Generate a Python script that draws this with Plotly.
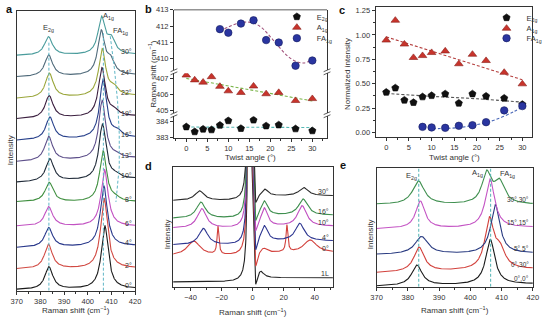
import numpy as np
import plotly.graph_objects as go

W, H = 548, 322
FONT = "Liberation Sans, Arial, sans-serif"
INK = "#333333"


def px(xp):
    return xp / W


def py(yp):
    return 1 - yp / H


def lorentz(x, x0, h, fwhm):
    return h / (1 + ((x - x0) / (fwhm / 2.0)) ** 2)


# ---------------- panel a: Raman spectra vs twist angle ----------------
a_labels = ["0°", "2°", "4°", "6°", "8°", "10°", "13°", "16°", "19°", "22°", "24°", "30°"]
a_colors = ["#1a1a1a", "#d14a43", "#2b3a8c", "#c252c2", "#3f8f3f", "#1f2a38",
            "#5d4f8a", "#27408b", "#3b1f3f", "#9aa63a", "#4f6a7a", "#4a9c9c"]
a_base_left = [1, 22, 44, 66, 91, 111, 132, 154, 176, 197, 219, 241]
a_base_right = [2, 23, 46, 66, 91, 115, 136, 157, 179, 200, 221, 242]
a_e2g_pos = [383.6, 383.4, 383.5, 383.5, 383.7, 384.0, 383.5, 384.0, 383.7, 383.8, 383.5, 383.4]
a_e2g_h = [23, 25, 20, 20, 20, 23, 25, 23, 23, 25, 22, 19]
a_a1g_pos = [407.2, 406.9, 406.8, 407.1, 406.5, 406.2, 406.1, 406.5, 406.0, 406.1, 405.7, 405.8]
a_a1g_h = [65, 72, 62, 58, 52, 57, 60, 60, 50, 48, 44, 37]
a_fa_pos = [410.0, 410.0, 410.0, 410.0, 411.8, 411.6, 412.2, 412.4, 411.2, 411.0, 409.6, 409.9]
a_fa_h = [0, 0, 0, 0, 3, 3, 3, 6, 5, 8, 14, 15]
a_e2g_guide = ([383.6, 383.6], [0, 256])
a_a1g_guide = ([406.6, 406.6], [0, 264])
a_fa_guide = ([409.5, 411.3, 412.6, 413.3, 413.3, 412.6, 411.9],
              [261, 227, 194, 161, 127, 107, 91])

# ---------------- panel b / c: peak position and intensity ----------------
twist = [0, 2, 4, 6, 8, 10, 13, 16, 19, 22, 26, 30]
twist_fa = [8, 10, 13, 16, 19, 22, 26, 30]
b_e2g = [383.64, 383.34, 383.50, 383.46, 383.74, 384.02, 383.54, 384.06, 383.70, 383.76, 383.52, 383.40]
b_a1g = [407.20, 406.90, 406.76, 407.10, 406.50, 406.22, 406.12, 406.52, 406.04, 406.12, 405.62, 405.74]
b_fa = [411.82, 411.60, 412.16, 412.36, 411.15, 411.00, 409.58, 409.90]
b_fit_e2g = ([0, 30], [383.63, 383.60])
b_fit_a1g = ([0, 30], [407.00, 405.60])
b_fit_fa = ([8, 10, 12, 14, 16, 18, 20, 22, 24, 26, 28, 30],
            [411.70, 411.95, 412.15, 412.25, 412.20, 411.90, 411.35, 410.75, 410.20, 409.85, 409.75, 409.95])

c_e2g = [0.412, 0.456, 0.331, 0.307, 0.365, 0.378, 0.395, 0.300, 0.395, 0.372, 0.351, 0.287]
c_a1g = [0.946, 1.149, 0.905, 0.767, 0.787, 0.818, 0.834, 0.703, 0.800, 0.736, 0.615, 0.497]
c_fa = [0.057, 0.051, 0.047, 0.068, 0.074, 0.105, 0.226, 0.270]
c_fit_e2g = ([0, 10, 20, 30], [0.40, 0.37, 0.345, 0.31])
c_fit_a1g = ([0, 30], [0.98, 0.54])
c_fit_fa = ([8, 12, 16, 20, 24, 28, 30], [0.04, 0.04, 0.05, 0.08, 0.13, 0.21, 0.26])

# ---------------- panel d: low-frequency spectra ----------------
d_labels = ["1L", "0°", "4°", "10°", "16°", "30°"]
d_colors = ["#222222", "#d2413c", "#2c3590", "#c04ec0", "#3f8f4f", "#2a2a2a"]
d_base_left = [5, 31.7, 42.7, 60, 70, 88.3]
d_base_right = [9.3, 35, 47, 62, 73.3, 93.3]
d_broad_left_pos = [-35, -37.9, -31.7, -32.7, -33.3, -34.2]
d_broad_left_h = [0, 15, 17, 20, 16.7, 10]
d_broad_right_pos = [35, 37.1, 30.4, 31.9, 32.5, 32.9]
d_broad_right_h = [0, 13, 18, 21, 16.7, 8.4]
d_broad_w = [7, 10, 7, 7, 7, 7]
d_sharp_pos = [-22.3, 22.1]
d_sharp_h = [0, 29, 0, 0, 0, 0]
d_bump_pos = [5.0, 7.0, 7.5, 7.5, 7.5, 7.9]
d_bump_h = [8, 5, 16, 19, 15, 7]
d_dip_h = [10, 15, 12, 8, 8, 8]

# ---------------- panel e: stacked bilayer spectra ----------------
e_labels = ["0°,0°", "0°,30°", "5°,5°", "15°,15°", "30°,30°"]
e_colors = ["#1a1a1a", "#d2413c", "#283a80", "#c454c4", "#3f8f4f"]
e_base_left = [0.5, 14.3, 33, 59.3, 84.3]
e_base_right = [3, 18, 34.3, 61, 84.3]
e_e2g_pos = [382.9, 383.6, 384.4, 384.0, 383.4]
e_e2g_h = [21, 25, 18, 28, 24]
e_e2g_w = [4, 4, 5, 3.5, 4.5]
e_a1g_pos = [406.4, 406.1, 408.0, 406.3, 405.2]
e_a1g_h = [46, 50, 50, 50, 31]
e_fa_pos = [410, 409.5, 410, 410, 409.3]
e_fa_h = [0, 18, 0, 0, 22]
e_guides = [383.5, 406.5]

fig = go.Figure()
dash = "3px,2px"

# panel a traces
xa = np.linspace(370, 420, 800)
for i, lab in enumerate(a_labels):
    base = a_base_left[i] + (a_base_right[i] - a_base_left[i]) * (xa - 370) / 50
    ya = (base + lorentz(xa, a_e2g_pos[i], a_e2g_h[i], 4.0)
          + lorentz(xa, a_a1g_pos[i], a_a1g_h[i], 3.5)
          + lorentz(xa, a_fa_pos[i], a_fa_h[i], 4.0))
    fig.add_trace(go.Scatter(x=xa, y=ya, mode="lines", line=dict(color=a_colors[i], width=1.1),
                             xaxis="x", yaxis="y", showlegend=False, hoverinfo="skip"))
for gx, gy in (a_e2g_guide, a_a1g_guide, a_fa_guide):
    fig.add_trace(go.Scatter(x=gx, y=gy, mode="lines", line=dict(color="#5fb6c6", width=1, dash=dash),
                             xaxis="x", yaxis="y", showlegend=False, hoverinfo="skip"))

# panel b traces
mk_black = dict(symbol="pentagon", size=7.5, color="#111111", line=dict(color="#000", width=0.6))
mk_red = dict(symbol="triangle-up", size=7.5, color="#c8342c", line=dict(color="#8a1f1a", width=0.6))
mk_blue = dict(symbol="circle", size=7.5, color="#2a35a0", line=dict(color="#151d60", width=0.6))

fig.add_trace(go.Scatter(x=b_fit_e2g[0], y=b_fit_e2g[1], mode="lines", line=dict(color="#56b8b4", width=1.1, dash=dash),
                         xaxis="x2", yaxis="y4", showlegend=False, hoverinfo="skip"))
fig.add_trace(go.Scatter(x=b_fit_a1g[0], y=b_fit_a1g[1], mode="lines", line=dict(color="#7bb54a", width=1.1, dash=dash),
                         xaxis="x2", yaxis="y3", showlegend=False, hoverinfo="skip"))
fig.add_trace(go.Scatter(x=b_fit_fa[0], y=b_fit_fa[1], mode="lines", line=dict(color="#a0507a", width=1.1, dash=dash, shape="spline"),
                         xaxis="x2", yaxis="y2", showlegend=False, hoverinfo="skip"))
fig.add_trace(go.Scatter(x=twist, y=b_e2g, mode="markers", marker=mk_black, name="E<sub>2g</sub>",
                         xaxis="x2", yaxis="y4", legend="legend"))
fig.add_trace(go.Scatter(x=twist, y=b_a1g, mode="markers", marker=mk_red, name="A<sub>1g</sub>",
                         xaxis="x2", yaxis="y3", legend="legend2"))
fig.add_trace(go.Scatter(x=twist_fa, y=b_fa, mode="markers", marker=mk_blue, name="FA<sub>1g</sub>",
                         xaxis="x2", yaxis="y2", legend="legend3"))

# panel c traces
fig.add_trace(go.Scatter(x=c_fit_e2g[0], y=c_fit_e2g[1], mode="lines", line=dict(color="#555555", width=1.1, dash=dash, shape="spline"),
                         xaxis="x3", yaxis="y5", showlegend=False, hoverinfo="skip"))
fig.add_trace(go.Scatter(x=c_fit_a1g[0], y=c_fit_a1g[1], mode="lines", line=dict(color="#b5403f", width=1.1, dash=dash),
                         xaxis="x3", yaxis="y5", showlegend=False, hoverinfo="skip"))
fig.add_trace(go.Scatter(x=c_fit_fa[0], y=c_fit_fa[1], mode="lines", line=dict(color="#4a68b8", width=1.1, dash=dash, shape="spline"),
                         xaxis="x3", yaxis="y5", showlegend=False, hoverinfo="skip"))
fig.add_trace(go.Scatter(x=twist, y=c_e2g, mode="markers", marker=mk_black, name="E<sub>2g</sub>",
                         xaxis="x3", yaxis="y5", legend="legend4"))
fig.add_trace(go.Scatter(x=twist, y=c_a1g, mode="markers", marker=mk_red, name="A<sub>1g</sub>",
                         xaxis="x3", yaxis="y5", legend="legend5"))
fig.add_trace(go.Scatter(x=twist_fa, y=c_fa, mode="markers", marker=mk_blue, name="FA<sub>1g</sub>",
                         xaxis="x3", yaxis="y5", legend="legend6"))

# panel d traces
xl = np.linspace(-51.5, -1.2, 700)
xr = np.linspace(2.0, 52.5, 700)
for i, lab in enumerate(d_labels):
    yl = (d_base_left[i] + lorentz(xl, d_broad_left_pos[i], d_broad_left_h[i], d_broad_w[i])
          + lorentz(xl, d_sharp_pos[0], d_sharp_h[i], 1.4) + lorentz(xl, -2.2, 600, 1.2))
    yr = (d_base_right[i] + lorentz(xr, d_broad_right_pos[i], d_broad_right_h[i], d_broad_w[i])
          + lorentz(xr, d_sharp_pos[1], d_sharp_h[i] * 0.95, 1.4)
          + lorentz(xr, d_bump_pos[i], d_bump_h[i], 5.0) - lorentz(xr, 2.0, d_dip_h[i], 2.5))
    fig.add_trace(go.Scatter(x=np.concatenate([xl, xr]), y=np.concatenate([yl, yr]), mode="lines",
                             line=dict(color=d_colors[i], width=1.1),
                             xaxis="x4", yaxis="y6", showlegend=False, hoverinfo="skip"))

# panel e traces
xe = np.linspace(370, 420, 800)
for i, lab in enumerate(e_labels):
    base = e_base_left[i] + (e_base_right[i] - e_base_left[i]) * (xe - 370) / 50
    ye = (base + lorentz(xe, e_e2g_pos[i], e_e2g_h[i], e_e2g_w[i])
          + lorentz(xe, e_a1g_pos[i], e_a1g_h[i], 3.5)
          + lorentz(xe, e_fa_pos[i], e_fa_h[i], 4.0))
    fig.add_trace(go.Scatter(x=xe, y=ye, mode="lines", line=dict(color=e_colors[i], width=1.1),
                             xaxis="x5", yaxis="y7", showlegend=False, hoverinfo="skip"))
for gx in e_guides:
    fig.add_trace(go.Scatter(x=[gx, gx], y=[0, 123], mode="lines", line=dict(color="#4fb3b3", width=1, dash=dash),
                             xaxis="x5", yaxis="y7", showlegend=False, hoverinfo="skip"))

# ---------------- axes ----------------
base_ax = dict(showline=True, linecolor=INK, linewidth=0.8, mirror=True, ticks="outside", ticklen=3,
               tickwidth=0.8, tickcolor=INK, showgrid=False, zeroline=False,
               tickfont=dict(size=7.5, color=INK, family=FONT))
noy = dict(showticklabels=False, ticks="")

layout = dict(
    width=W, height=H, margin=dict(l=0, r=0, t=0, b=0),
    paper_bgcolor="white", plot_bgcolor="white",
    font=dict(family=FONT, size=8, color=INK),
    xaxis=dict(base_ax, domain=[px(11), px(133)], range=[370, 420], anchor="y", dtick=10,
               minor=dict(ticks="outside", ticklen=2, dtick=5, tickcolor=INK)),
    yaxis=dict(base_ax, **noy, domain=[py(294), py(6.7)], range=[0, 287.3], anchor="x"),
    xaxis2=dict(base_ax, domain=[px(173), px(330.7)], range=[-2.94, 33.5], anchor="y4", dtick=5, mirror=False,
                minor=dict(ticks="outside", ticklen=2, dtick=2.5, tickcolor=INK)),
    yaxis2=dict(base_ax, domain=[py(68), py(6)], range=[409.3, 413.0], anchor="x2", dtick=1),
    yaxis3=dict(base_ax, domain=[py(112), py(71)], range=[404.84, 407.32], anchor="x2", dtick=1),
    yaxis4=dict(base_ax, domain=[py(137.5), py(115)], range=[382.95, 384.3], anchor="x2", dtick=1),
    xaxis3=dict(base_ax, domain=[px(380.7), px(541.7)], range=[-2.35, 32.1], anchor="y5", dtick=5,
                minor=dict(ticks="outside", ticklen=2, dtick=2.5, tickcolor=INK)),
    yaxis5=dict(base_ax, domain=[py(136.7), py(3)], range=[-0.05, 1.287], anchor="x3", dtick=0.25,
                tickformat=".2f", minor=dict(ticks="outside", ticklen=2, dtick=0.125, tickcolor=INK)),
    xaxis4=dict(base_ax, domain=[px(172.3), px(336.7)], range=[-51.1, 51.7], anchor="y6", dtick=20,
                minor=dict(ticks="outside", ticklen=2, dtick=10, tickcolor=INK)),
    yaxis6=dict(base_ax, **noy, domain=[py(290), py(167)], range=[0, 123], anchor="x4"),
    xaxis5=dict(base_ax, domain=[px(381.7), px(542.7)], range=[370, 420], anchor="y7", dtick=10,
                minor=dict(ticks="outside", ticklen=2, dtick=5, tickcolor=INK)),
    yaxis7=dict(base_ax, **noy, domain=[py(290), py(168)], range=[0, 122], anchor="x5"),
)

# one single-entry legend per series so the keys stay compact
leg = dict(bgcolor="rgba(0,0,0,0)", borderwidth=0, font=dict(size=7.5, family=FONT, color=INK),
           xanchor="left", yanchor="middle", itemwidth=30)
for name, xpos, ypos in [("legend", 279, 13), ("legend2", 279, 24), ("legend3", 279, 35),
                         ("legend4", 495, 14), ("legend5", 495, 25), ("legend6", 495, 35)]:
    layout[name] = dict(leg, x=px(xpos), y=py(ypos))

fig.update_layout(**layout)

# ---------------- text ----------------
ann = []


def text(x, y, s, size=8, xref="paper", yref="paper", angle=0, xanchor="center", bold=False, color=INK):
    ann.append(dict(x=x, y=y, xref=xref, yref=yref, text=f"<b>{s}</b>" if bold else s, showarrow=False,
                    textangle=angle, xanchor=xanchor, yanchor="middle",
                    font=dict(size=size, family=FONT, color=color)))


# panel letters
for s, xp, yp in [("a", 4, 5), ("b", 147, 5), ("c", 346, 6), ("d", 147, 166), ("e", 347, 165)]:
    text(px(xp), py(yp), s, size=11, bold=True, color="#111")

# axis titles
raman = "Raman shift (cm<sup>−1</sup>)"
text(px(4), py(150), "Intensity", angle=-90)
text(px(72), py(314), raman)
text(px(151), py(72), raman, angle=-90)
text(px(252), py(157), "Twist angle (°)")
text(px(351), py(72), "Normalized intensity", angle=-90)
text(px(462), py(157), "Twist angle (°)")
text(px(166), py(236), "Intensity", angle=-90)
text(px(254), py(316), raman)
text(px(375), py(236), "Intensity", angle=-90)
text(px(462), py(314), raman)

# panel a peak names and angle labels
text(383.4, 269, "E<sub>2g</sub>", size=7.5, xref="x", yref="y")
text(408.8, 282, "A<sub>1g</sub>", size=7.5, xref="x", yref="y")
text(414.0, 266, "FA<sub>1g</sub>", size=7.5, xref="x", yref="y")
for i, lab in enumerate(a_labels):
    text(419.5, max(a_base_right[i] + 3, 5), lab, size=7, xref="x", yref="y", xanchor="right")

# panel d labels
for i, lab in enumerate(d_labels):
    text(50.5, d_base_right[i] + 4, lab, size=7, xref="x4", yref="y6", xanchor="right")

# panel e labels
text(381.3, 114, "E<sub>2g</sub>", size=7.5, xref="x5", yref="y7")
text(402.4, 117, "A<sub>1g</sub>", size=7.5, xref="x5", yref="y7")
text(412.0, 116, "FA<sub>1g</sub>", size=7.5, xref="x5", yref="y7")
for i, lab in enumerate(e_labels):
    text(419.5, e_base_right[i] + 5, lab, size=6.5, xref="x5", yref="y7", xanchor="right")

# ---------------- frame pieces for the broken axis in b ----------------
shapes = [dict(type="line", xref="paper", yref="paper", x0=px(173), x1=px(330.7), y0=py(6), y1=py(6),
               line=dict(color=INK, width=0.8))]
for yb in (69.5, 113.5):
    for xb in (173, 330.7):
        for dy in (-1.6, 1.6):
            shapes.append(dict(type="line", xref="paper", yref="paper",
                               x0=px(xb - 3.5), x1=px(xb + 3.5), y0=py(yb + dy + 1.5), y1=py(yb + dy - 1.5),
                               line=dict(color=INK, width=0.8)))

fig.update_layout(annotations=ann, shapes=shapes)
fig.write_html("out.html")
